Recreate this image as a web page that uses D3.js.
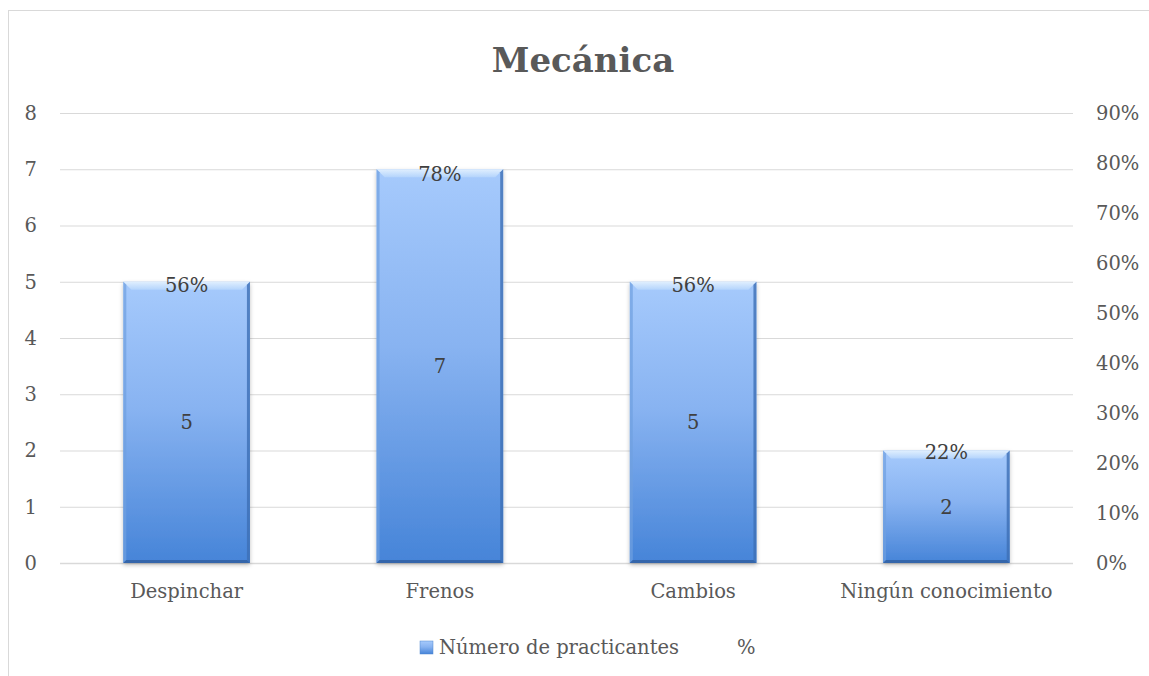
<!DOCTYPE html>
<html>
<head>
<meta charset="utf-8">
<script src="https://cdn.jsdelivr.net/npm/d3@7"></script>
<style>
  body { margin: 0; background: #fff; }
  text { font-family: "DejaVu Serif", serif; }
</style>
</head>
<body>
<div id="chart"></div>
<script>
const categories = ["Despinchar", "Frenos", "Cambios", "Ningún conocimiento"];
const practicantes = [5, 7, 5, 2];
const porcentaje = [0.556, 0.778, 0.556, 0.222];
const leftTicks = [0, 1, 2, 3, 4, 5, 6, 7, 8];
const rightTicks = [0, 0.1, 0.2, 0.3, 0.4, 0.5, 0.6, 0.7, 0.8, 0.9];
const legendLabels = ["Número de practicantes", "%"];

let W = 1149, H = 676;
let margin = { top: 113, right: 76, bottom: 113, left: 60 },
    width = W - margin.left - margin.right,
    height = H - margin.top - margin.bottom;
let fs = "19.5px";

let svg = d3.select("#chart")
    .append("svg")
    .attr("width", W)
    .attr("height", H);

let defs = svg.append("defs");
let bodyGrad = defs.append("linearGradient").attr("id", "barBody")
    .attr("x1", 0).attr("y1", 0).attr("x2", 0).attr("y2", 1);
bodyGrad.append("stop").attr("offset", "0%").attr("stop-color", "#a6cafc");
bodyGrad.append("stop").attr("offset", "45%").attr("stop-color", "#88b3f1");
bodyGrad.append("stop").attr("offset", "100%").attr("stop-color", "#4684d8");

let topGrad = defs.append("linearGradient").attr("id", "barTop")
    .attr("x1", 0).attr("y1", 0).attr("x2", 0).attr("y2", 1);
topGrad.append("stop").attr("offset", "0%").attr("stop-color", "#e0effe");
topGrad.append("stop").attr("offset", "100%").attr("stop-color", "#b4d4fc");

let shadow = defs.append("filter").attr("id", "shadow")
    .attr("x", "-10%").attr("y", "-10%").attr("width", "120%").attr("height", "120%");
shadow.append("feDropShadow").attr("dx", 0).attr("dy", 2)
    .attr("stdDeviation", 2).attr("flood-color", "#000").attr("flood-opacity", 0.25);

// chart frame
svg.append("rect")
    .attr("x", 8.5).attr("y", 10.5)
    .attr("width", W + 20).attr("height", H + 20)
    .attr("fill", "none")
    .attr("stroke", "#d9d9d9");

svg.append("text")
    .attr("x", 583)
    .attr("y", 72)
    .attr("text-anchor", "middle")
    .style("font-size", "34px")
    .style("font-weight", "bold")
    .attr("fill", "#595959")
    .text("Mecánica");

let g = svg.append("g")
    .attr("transform", "translate(" + margin.left + "," + margin.top + ")");

let x = d3.scaleBand()
    .domain(categories)
    .range([0, width])
    .paddingInner(0.5)
    .paddingOuter(0.25);

let y = d3.scaleLinear().domain([0, 8]).range([height, 0]);
let y2 = d3.scaleLinear().domain([0, 0.9]).range([height, 0]);

// gridlines
g.selectAll(".grid")
    .data(leftTicks)
    .enter()
    .append("line")
    .attr("x1", 0).attr("x2", width)
    .attr("y1", d => y(d) + 0.5).attr("y2", d => y(d) + 0.5)
    .attr("stroke", "#d9d9d9")
    .attr("stroke-width", d => d === 0 ? 1.5 : 1);

// left axis
let yAxis = g.append("g")
    .attr("transform", "translate(-20,0)")
    .call(d3.axisLeft(y).tickValues(leftTicks).tickSize(0).tickFormat(d3.format("d")));
yAxis.select(".domain").remove();
yAxis.selectAll("text")
    .attr("fill", "#595959")
    .style("font-size", fs)
    .style("font-family", "DejaVu Serif");

// right axis
let yAxis2 = g.append("g")
    .attr("transform", "translate(" + (width + 20) + ",0)")
    .call(d3.axisRight(y2).tickValues(rightTicks).tickSize(0).tickFormat(d3.format(".0%")));
yAxis2.select(".domain").remove();
yAxis2.selectAll("text")
    .attr("fill", "#595959")
    .style("font-size", fs)
    .style("font-family", "DejaVu Serif");

// category axis
let xAxis = g.append("g")
    .attr("transform", "translate(0," + height + ")")
    .call(d3.axisBottom(x).tickSize(0).tickPadding(21));
xAxis.select(".domain").remove();
xAxis.selectAll("text")
    .attr("fill", "#595959")
    .style("font-size", fs)
    .style("font-family", "DejaVu Serif");

// bars
let bev = 8, side = 3;
let bars = g.selectAll(".bar")
    .data(categories.map((c, i) => ({ cat: c, v: practicantes[i], p: porcentaje[i] })))
    .enter()
    .append("g")
    .attr("class", "bar")
    .attr("transform", d => "translate(" + x(d.cat) + "," + y(d.v) + ")");

let bw = x.bandwidth();
bars.append("rect")
    .attr("width", bw)
    .attr("height", d => height - y(d.v))
    .attr("fill", "url(#barBody)")
    .attr("filter", "url(#shadow)");

// top bevel
bars.append("path")
    .attr("d", "M0,0 L" + bw + ",0 L" + (bw - bev) + "," + bev + " L" + bev + "," + bev + " Z")
    .attr("fill", "url(#barTop)");
// left edge
bars.append("path")
    .attr("d", d => {
        let h = height - y(d.v);
        return "M0,0 L" + side + "," + side + " L" + side + "," + (h - side) + " L0," + h + " Z";
    })
    .attr("fill", "#6f9fe0").attr("opacity", 0.7);
// right edge
bars.append("path")
    .attr("d", d => {
        let h = height - y(d.v);
        return "M" + bw + ",0 L" + (bw - side) + "," + side + " L" + (bw - side) + "," + (h - side) + " L" + bw + "," + h + " Z";
    })
    .attr("fill", "#3d6fb5").attr("opacity", 0.8);
// bottom edge
bars.append("path")
    .attr("d", d => {
        let h = height - y(d.v);
        return "M0," + h + " L" + side + "," + (h - side) + " L" + (bw - side) + "," + (h - side) + " L" + bw + "," + h + " Z";
    })
    .attr("fill", "#2f5e9f").attr("opacity", 0.8);

// value labels
g.selectAll(".val")
    .data(categories.map((c, i) => ({ cat: c, v: practicantes[i] })))
    .enter()
    .append("text")
    .attr("x", d => x(d.cat) + bw / 2)
    .attr("y", d => (y(d.v) + height) / 2)
    .attr("dy", "0.35em")
    .attr("text-anchor", "middle")
    .attr("fill", "#404040")
    .style("font-size", fs)
    .text(d => d.v);

// percent labels (series drawn invisible)
g.selectAll(".pct")
    .data(categories.map((c, i) => ({ cat: c, p: porcentaje[i] })))
    .enter()
    .append("text")
    .attr("x", d => x(d.cat) + bw / 2)
    .attr("y", d => y2(d.p))
    .attr("dy", "0.35em")
    .attr("text-anchor", "middle")
    .attr("fill", "#404040")
    .style("font-size", fs)
    .text(d => d3.format(".0%")(d.p));

// legend
let legend = svg.append("g").attr("transform", "translate(420,654)");
legend.append("rect")
    .attr("x", 0).attr("y", -13)
    .attr("width", 13).attr("height", 13)
    .attr("fill", "url(#barBody)")
    .attr("stroke", "#4f86cf").attr("stroke-width", 0.5);
legend.append("text")
    .attr("x", 19).attr("y", 0)
    .attr("fill", "#595959")
    .style("font-size", fs)
    .text(legendLabels[0]);
legend.append("text")
    .attr("x", 317).attr("y", 0)
    .attr("fill", "#595959")
    .style("font-size", fs)
    .text(legendLabels[1]);
</script>
</body>
</html>
